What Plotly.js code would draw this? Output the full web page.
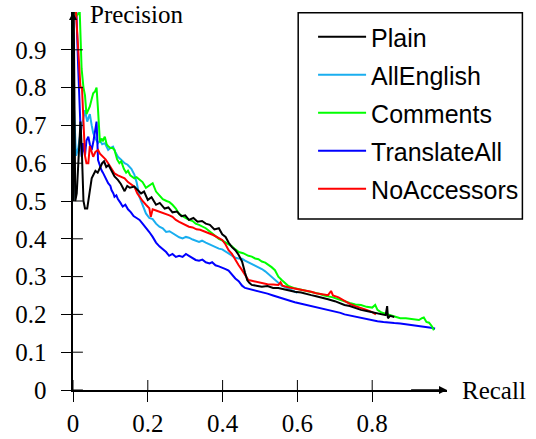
<!DOCTYPE html>
<html>
<head>
<meta charset="utf-8">
<script src="https://cdn.plot.ly/plotly-3.0.1.min.js"></script>
<style>html,body{margin:0;padding:0;background:#fff;}#chart{width:536px;height:439px;}</style>
</head>
<body>
<div id="chart"></div>
<script>
var seriesNames = ['Plain','AllEnglish','Comments','TranslateAll','NoAccessors'];
var seriesColors = ['#000000','#1aaeef','#00ff00','#0000ff','#ff0000'];

var xTickVals = [0,0.2,0.4,0.6,0.8];
var xTickLabels = ['0','0.2','0.4','0.6','0.8'];
var yTickVals = [0,0.1,0.2,0.3,0.4,0.5,0.6,0.7,0.8,0.9];
var yTickLabels = ['0','0.1','0.2','0.3','0.4','0.5','0.6','0.7','0.8','0.9'];

var plainX = [0.000,0.002,0.004,0.006,0.010,0.015,0.020,0.024,0.028,0.032,0.038,0.044,0.050,0.055,0.060,0.066,0.072,0.078,0.083,0.089,0.095,0.103,0.111,0.120,0.128,0.138,0.145,0.152,0.164,0.172,0.182,0.190,0.200,0.210,0.222,0.232,0.245,0.255,0.266,0.278,0.290,0.300,0.310,0.322,0.333,0.345,0.355,0.366,0.378,0.390,0.399,0.408,0.416,0.425,0.434,0.443,0.452,0.460,0.466,0.472,0.478,0.490,0.505,0.520,0.535,0.549,0.565,0.580,0.593,0.610,0.625,0.637,0.650,0.665,0.682,0.700,0.715,0.726,0.740,0.755,0.770,0.785,0.800,0.814,0.828,0.836,0.840,0.842,0.848,0.859];
var plainY = [0.50,1.00,0.75,0.50,0.52,0.60,0.71,0.62,0.50,0.48,0.48,0.52,0.56,0.57,0.58,0.575,0.59,0.60,0.605,0.59,0.595,0.58,0.565,0.556,0.545,0.526,0.54,0.535,0.538,0.53,0.52,0.525,0.503,0.51,0.49,0.495,0.48,0.483,0.47,0.472,0.46,0.462,0.45,0.455,0.445,0.447,0.44,0.437,0.425,0.428,0.412,0.405,0.39,0.378,0.37,0.357,0.34,0.31,0.29,0.283,0.278,0.276,0.273,0.275,0.27,0.27,0.266,0.262,0.26,0.258,0.253,0.251,0.248,0.245,0.24,0.235,0.228,0.225,0.222,0.216,0.212,0.209,0.206,0.204,0.2,0.198,0.222,0.19,0.196,0.193];

var allEnglishX = [0.001,0.003,0.008,0.014,0.020,0.027,0.032,0.038,0.045,0.050,0.054,0.060,0.067,0.072,0.078,0.085,0.090,0.094,0.100,0.107,0.113,0.120,0.128,0.138,0.146,0.156,0.164,0.170,0.178,0.186,0.195,0.204,0.213,0.222,0.231,0.240,0.249,0.258,0.266,0.275,0.284,0.293,0.302,0.310,0.320,0.337,0.345,0.355,0.365,0.381,0.390,0.399,0.408,0.416,0.425,0.434,0.443,0.452,0.460,0.469,0.478,0.487,0.496,0.505,0.514,0.523,0.531,0.540,0.549,0.558,0.567,0.576,0.585,0.593,0.600];
var allEnglishY = [0.50,0.74,0.62,0.64,0.68,0.72,0.74,0.71,0.73,0.70,0.68,0.665,0.653,0.66,0.65,0.653,0.64,0.635,0.64,0.644,0.63,0.617,0.61,0.60,0.596,0.585,0.57,0.55,0.51,0.49,0.467,0.455,0.452,0.44,0.432,0.428,0.418,0.42,0.415,0.41,0.404,0.401,0.405,0.403,0.398,0.392,0.395,0.39,0.385,0.379,0.374,0.372,0.366,0.36,0.356,0.35,0.348,0.347,0.342,0.338,0.334,0.33,0.326,0.32,0.314,0.306,0.30,0.29,0.282,0.276,0.272,0.268,0.264,0.26,0.257];

var commentsX = [0.004,0.010,0.018,0.020,0.023,0.028,0.032,0.036,0.040,0.045,0.050,0.054,0.059,0.063,0.067,0.070,0.072,0.076,0.080,0.085,0.090,0.094,0.100,0.106,0.111,0.118,0.124,0.129,0.136,0.142,0.147,0.153,0.158,0.164,0.170,0.178,0.186,0.195,0.204,0.213,0.222,0.231,0.240,0.250,0.258,0.266,0.275,0.284,0.292,0.300,0.310,0.320,0.328,0.337,0.346,0.355,0.365,0.375,0.383,0.390,0.400,0.408,0.416,0.425,0.434,0.443,0.455,0.469,0.478,0.487,0.496,0.505,0.514,0.523,0.531,0.540,0.549,0.558,0.567,0.576,0.590,0.600,0.611,0.625,0.637,0.646,0.660,0.672,0.682,0.695,0.710,0.726,0.740,0.755,0.770,0.785,0.800,0.808,0.814,0.825,0.840,0.859,0.875,0.890,0.903,0.915,0.925,0.933,0.938,0.945,0.952,0.960,0.965];
var commentsY = [1.0,0.99,1.0,0.93,0.85,0.80,0.78,0.73,0.74,0.75,0.77,0.785,0.79,0.80,0.74,0.70,0.655,0.665,0.66,0.67,0.65,0.645,0.64,0.64,0.635,0.61,0.60,0.605,0.585,0.575,0.58,0.568,0.565,0.56,0.563,0.556,0.55,0.535,0.54,0.547,0.525,0.515,0.505,0.50,0.497,0.49,0.48,0.465,0.46,0.455,0.45,0.447,0.44,0.437,0.432,0.428,0.42,0.412,0.406,0.40,0.395,0.39,0.385,0.38,0.372,0.365,0.362,0.355,0.353,0.348,0.346,0.34,0.337,0.331,0.325,0.317,0.30,0.291,0.283,0.275,0.27,0.268,0.265,0.262,0.26,0.258,0.254,0.25,0.248,0.245,0.24,0.234,0.23,0.226,0.225,0.22,0.218,0.225,0.212,0.205,0.2,0.195,0.19,0.19,0.188,0.186,0.185,0.19,0.192,0.18,0.178,0.168,0.158];

var translateAllX = [0.004,0.009,0.014,0.018,0.023,0.027,0.032,0.036,0.041,0.045,0.050,0.055,0.060,0.063,0.067,0.072,0.076,0.080,0.085,0.090,0.094,0.100,0.103,0.108,0.111,0.116,0.120,0.127,0.133,0.140,0.147,0.155,0.162,0.170,0.178,0.186,0.195,0.204,0.213,0.222,0.231,0.240,0.249,0.257,0.266,0.275,0.284,0.293,0.302,0.310,0.320,0.328,0.337,0.346,0.355,0.365,0.372,0.381,0.390,0.399,0.408,0.416,0.425,0.434,0.443,0.452,0.460,0.469,0.478,0.487,0.496,0.505,0.520,0.535,0.549,0.565,0.580,0.593,0.610,0.625,0.637,0.650,0.665,0.682,0.700,0.715,0.726,0.740,0.755,0.770,0.785,0.800,0.814,0.830,0.845,0.859,0.875,0.890,0.903,0.915,0.925,0.935,0.947,0.955,0.962,0.968];
var translateAllY = [1.0,1.0,0.85,0.72,0.617,0.653,0.62,0.66,0.67,0.65,0.635,0.66,0.69,0.71,0.608,0.59,0.582,0.575,0.564,0.555,0.547,0.54,0.529,0.52,0.511,0.515,0.505,0.495,0.485,0.49,0.478,0.47,0.46,0.455,0.45,0.44,0.43,0.418,0.405,0.39,0.38,0.372,0.365,0.355,0.36,0.352,0.355,0.352,0.36,0.355,0.348,0.344,0.342,0.345,0.338,0.335,0.338,0.33,0.327,0.324,0.32,0.316,0.305,0.295,0.288,0.276,0.27,0.268,0.266,0.264,0.262,0.26,0.255,0.25,0.245,0.24,0.236,0.232,0.228,0.225,0.222,0.219,0.216,0.213,0.208,0.204,0.2,0.197,0.193,0.19,0.187,0.184,0.182,0.18,0.178,0.177,0.176,0.174,0.172,0.171,0.17,0.168,0.167,0.166,0.164,0.162];

var noAccessorsX = [0.008,0.016,0.020,0.024,0.027,0.032,0.036,0.041,0.045,0.050,0.054,0.060,0.067,0.072,0.080,0.087,0.094,0.100,0.106,0.111,0.120,0.129,0.138,0.147,0.155,0.164,0.172,0.178,0.186,0.195,0.204,0.208,0.213,0.222,0.231,0.240,0.250,0.258,0.266,0.275,0.284,0.293,0.300,0.310,0.320,0.330,0.340,0.355,0.365,0.375,0.385,0.399,0.408,0.416,0.425,0.434,0.443,0.452,0.460,0.469,0.478,0.487,0.496,0.505,0.520,0.535,0.549,0.555,0.560,0.575,0.593,0.610,0.625,0.637,0.650,0.665,0.682,0.690,0.695,0.710,0.726,0.740,0.755,0.770,0.785,0.800,0.810];
var noAccessorsY = [1.0,0.87,0.80,0.80,0.72,0.62,0.60,0.60,0.645,0.625,0.617,0.63,0.635,0.625,0.617,0.61,0.60,0.59,0.58,0.573,0.568,0.564,0.56,0.55,0.545,0.538,0.52,0.511,0.50,0.49,0.481,0.458,0.478,0.475,0.472,0.47,0.465,0.462,0.458,0.45,0.445,0.44,0.436,0.432,0.43,0.425,0.424,0.419,0.414,0.41,0.405,0.397,0.385,0.37,0.36,0.344,0.33,0.317,0.303,0.291,0.289,0.287,0.284,0.282,0.28,0.279,0.278,0.285,0.276,0.272,0.269,0.265,0.262,0.26,0.256,0.254,0.251,0.262,0.25,0.245,0.235,0.228,0.222,0.218,0.212,0.206,0.2];

var seriesX = [plainX, allEnglishX, commentsX, translateAllX, noAccessorsX];
var seriesY = [plainY, allEnglishY, commentsY, translateAllY, noAccessorsY];
// draw order (bottom to top); legend order kept by legendrank
var drawOrder = [1, 3, 2, 4, 0];

var traces = drawOrder.map(function(i){
  return {
    type:'scatter', mode:'lines', name:seriesNames[i],
    x:seriesX[i], y:seriesY[i],
    line:{color:seriesColors[i], width:2},
    legendrank:i+1, legendgroup:'g'+i, hoverinfo:'skip'
  };
});

var W = 536, H = 439, mL = 73, mR = 86, mT = 12, mB = 49;
var pw = W - mL - mR, ph = H - mT - mB;
var tickIn = 10;

var shapes = [];
xTickVals.forEach(function(v){
  shapes.push({type:'line', xref:'x', yref:'paper', x0:v, x1:v, y0:0, y1:tickIn/ph, line:{color:'#000', width:1}, layer:'above'});
});
yTickVals.forEach(function(v){
  shapes.push({type:'line', xref:'paper', yref:'y', x0:0, x1:tickIn/pw, y0:v, y1:v, line:{color:'#000', width:1}, layer:'above'});
});
// legend frame
shapes.push({type:'rect', xref:'paper', yref:'paper', x0:(300-mL)/pw, x1:(526-mL)/pw, y0:1-(219-mT)/ph, y1:1-(12.7-mT)/ph, line:{color:'#000', width:1.5}, fillcolor:'rgba(0,0,0,0)', layer:'above'});

var serif = 'Liberation Serif, Times New Roman, serif';
var axisCommon = {
  range:[0,1], ticks:'outside', ticklen:10, tickwidth:1, tickcolor:'#000',
  showline:true, linecolor:'#000', linewidth:1.6, showgrid:false, zeroline:false,
  tickfont:{family:serif, size:25, color:'#000'}, fixedrange:true
};

var layout = {
  width:W, height:H,
  margin:{l:mL, r:mR, t:mT, b:mB, pad:0},
  paper_bgcolor:'#fff', plot_bgcolor:'#fff',
  xaxis:Object.assign({}, axisCommon, {tickvals:xTickVals, ticktext:xTickLabels, ticklabelstandoff:0}),
  yaxis:Object.assign({}, axisCommon, {tickvals:yTickVals, ticktext:yTickLabels, ticklabelstandoff:10}),
  showlegend:true,
  legend:{
    x:(315-mL)/pw, xanchor:'left', y:1-(14-mT)/ph, yanchor:'top',
    bgcolor:'rgba(0,0,0,0)', borderwidth:0,
    font:{family:'Liberation Sans, Arial, sans-serif', size:25, color:'#000'},
    tracegroupgap:2.5, itemwidth:48, traceorder:'grouped'
  },
  shapes:shapes,
  annotations:[
    {x:1, y:0, xref:'x', yref:'y', ax:0.9, ay:0, axref:'x', ayref:'y', text:'', showarrow:true, arrowhead:2, arrowsize:1, arrowwidth:1.6, arrowcolor:'#000', standoff:0},
    {x:0, y:1, xref:'x', yref:'y', ax:0, ay:0.9, axref:'x', ayref:'y', text:'', showarrow:true, arrowhead:2, arrowsize:1, arrowwidth:1.6, arrowcolor:'#000', standoff:0},
    {x:(88-mL)/pw, y:1-(15-mT)/ph, xref:'paper', yref:'paper', xanchor:'left', yanchor:'middle', text:'Precision', showarrow:false, font:{family:serif, size:25, color:'#000'}},
    {x:(463-mL)/pw, y:0, xref:'paper', yref:'paper', xanchor:'left', yanchor:'middle', text:'Recall', showarrow:false, font:{family:serif, size:25, color:'#000'}}
  ]
};

Plotly.newPlot('chart', traces, layout, {staticPlot:true, displayModeBar:false});
</script>
</body>
</html>
